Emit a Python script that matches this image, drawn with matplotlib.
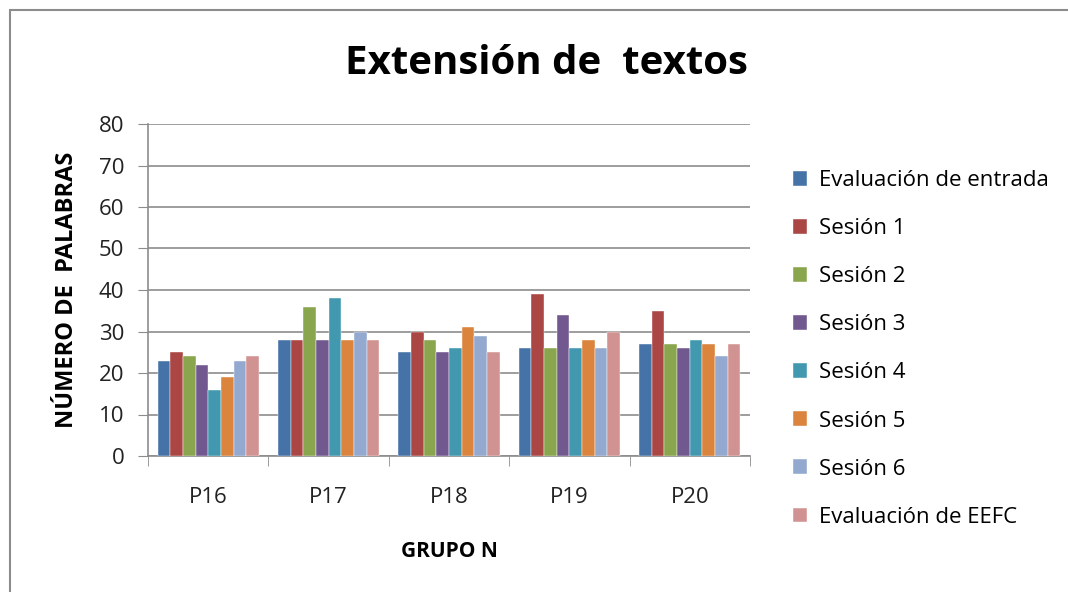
import numpy as np
import matplotlib
matplotlib.use("Agg")
import matplotlib.pyplot as plt
from matplotlib.patches import Rectangle

plt.rcParams['font.family'] = ['Open Sans', 'DejaVu Sans']

# datos
grupos = ['P16', 'P17', 'P18', 'P19', 'P20']
series = ['Evaluación de entrada', 'Sesión 1', 'Sesión 2', 'Sesión 3',
          'Sesión 4', 'Sesión 5', 'Sesión 6', 'Evaluación de EEFC']
eval_entrada = [23, 28, 25, 26, 27]
sesion1 = [25, 28, 30, 39, 35]
sesion2 = [24, 36, 28, 26, 27]
sesion3 = [22, 28, 25, 34, 26]
sesion4 = [16, 38, 26, 26, 28]
sesion5 = [19, 28, 31, 28, 27]
sesion6 = [23, 30, 29, 26, 24]
eval_eefc = [24, 28, 25, 30, 27]
valores = [eval_entrada, sesion1, sesion2, sesion3, sesion4, sesion5, sesion6, eval_eefc]
colores = ['#4572A7', '#AA4643', '#89A54E', '#71588F',
           '#4198AF', '#DB843D', '#93A9CF', '#D19392']

fig = plt.figure(figsize=(10.68, 5.92), dpi=100)
# marco del gráfico
fig.patches.append(Rectangle((10 / 1068, -0.01), 1.0, 1 - 10 / 592 + 0.01,
                             transform=fig.transFigure, fill=False,
                             edgecolor='#8c8c8c', linewidth=1.5))

ax = fig.add_axes([148 / 1068, 1 - 456 / 592, (750 - 148) / 1068, (456 - 124) / 592])

ancho = 1 / 9.5
x = np.arange(len(grupos))
for i, (nombre, vals, c) in enumerate(zip(series, valores, colores)):
    pos = x - 4 * ancho + ancho / 2 + i * ancho
    ax.bar(pos, vals, width=ancho, color=c, label=nombre, edgecolor='white',
           linewidth=0.3, zorder=3)

ax.set_xlim(-0.5, len(grupos) - 0.5)
ax.set_ylim(0, 80)
ax.set_yticks(range(0, 81, 10))
ax.yaxis.grid(True, color='#8c8c8c', linewidth=1.2, zorder=0)
ax.set_xticks(x)
ax.set_xticklabels(grupos)
ax.set_xticks(np.arange(-0.5, len(grupos), 1), minor=True)
ax.tick_params(axis='x', which='major', length=0, pad=22, labelsize=16, colors='#222222')
ax.tick_params(axis='x', which='minor', length=7, color='#8c8c8c')
ax.tick_params(axis='y', length=7, color='#8c8c8c', labelsize=16, pad=10, labelcolor='#222222')
for s in ['top', 'right']:
    ax.spines[s].set_visible(False)
for s in ['left', 'bottom']:
    ax.spines[s].set_color('#8c8c8c')
    ax.spines[s].set_linewidth(1.2)

ax.set_ylabel('NÚMERO DE  PALABRAS', fontsize=17, fontweight='bold', labelpad=14)
ax.set_xlabel('GRUPO N', fontsize=15, fontweight='bold', labelpad=24)
fig.text(546 / 1068, 1 - 63 / 592, 'Extensión de  textos', fontsize=29,
         fontweight='bold', ha='center', va='center')

ax.legend(loc='upper left', bbox_to_anchor=(793 / 1068, 1 - 170 / 592),
          bbox_transform=fig.transFigure, borderpad=0, borderaxespad=0,
          frameon=False, fontsize=16, handlelength=0.65, handleheight=0.65,
          labelspacing=1.22, handletextpad=0.5)

fig.savefig('out.png', dpi=100)
